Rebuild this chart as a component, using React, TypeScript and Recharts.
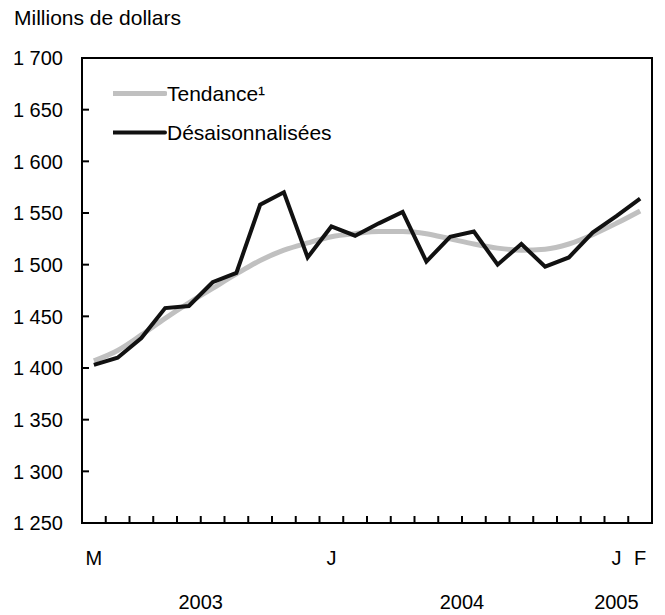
import React from "react";
import { ComposedChart, Line, XAxis, YAxis, ReferenceArea, Legend } from "recharts";

// ---- data ----
const months = [
  "2003-03", "2003-04", "2003-05", "2003-06", "2003-07", "2003-08", "2003-09", "2003-10",
  "2003-11", "2003-12", "2004-01", "2004-02", "2004-03", "2004-04", "2004-05", "2004-06",
  "2004-07", "2004-08", "2004-09", "2004-10", "2004-11", "2004-12", "2005-01", "2005-02",
];
const monthLabels = [
  "M", "", "", "", "", "", "", "", "", "", "J", "", "", "", "", "", "", "", "", "", "", "", "J", "F",
];
const trend = [
  1407, 1417, 1432, 1448, 1463, 1477, 1491, 1504, 1514, 1521, 1527, 1530,
  1532, 1532, 1530, 1525, 1520, 1516, 1514, 1515, 1520, 1529, 1540, 1552,
];
const seasonallyAdjusted = [
  1403, 1410, 1429, 1458, 1460, 1483, 1492, 1558, 1570, 1507, 1537, 1528,
  1540, 1551, 1503, 1527, 1532, 1500, 1520, 1498, 1507, 1531, 1547, 1564,
];
const yTicks = [1250, 1300, 1350, 1400, 1450, 1500, 1550, 1600, 1650, 1700];
const years = [
  { label: "2003", at: 4.5 },
  { label: "2004", at: 15.5 },
  { label: "2005", at: 22 },
];
const seriesNames = { trend: "Tendance\u00B9", sa: "Désaisonnalisées" };
const seriesOrder = ["trend", "sa"];
const yTitle = "Millions de dollars";

const data = months.map((m, i) => ({
  month: m,
  trend: trend[i],
  sa: seasonallyAdjusted[i],
}));

// ---- layout ----
const W = 665;
const H = 615;
const MARGIN = { top: 58, right: 13, bottom: 0, left: 0 };
const Y_W = 82;
const X_H = 92;
const PLOT_W = W - MARGIN.left - MARGIN.right - Y_W;
const FONT = "'Liberation Sans', Arial, Helvetica, sans-serif";
const FS = 21;
const FS_NUM = 20;

const fmt = (v: number) =>
  `${Math.floor(v / 1000)} ${String(v % 1000).padStart(3, "0")}`;

const XTick = (props: any) => {
  const { x, y, payload } = props;
  const i = months.indexOf(payload.value);
  const band = PLOT_W / months.length;
  return (
    <g>
      {i < months.length - 1 && (
        <line x1={x + band / 2} x2={x + band / 2} y1={y} y2={y - 7} stroke="#000" strokeWidth={2} />
      )}
      {monthLabels[i] && (
        <text x={x} y={y + 42} textAnchor="middle" fontSize={FS_NUM} fontFamily={FONT} fill="#000">
          {monthLabels[i]}
        </text>
      )}
      {years
        .filter((yr) => Math.floor(yr.at) === i)
        .map((yr) => (
          <text
            key={yr.label}
            x={x + (yr.at - i) * band}
            y={y + 86}
            textAnchor="middle"
            fontSize={FS_NUM}
            fontFamily={FONT}
            fill="#000"
          >
            {yr.label}
          </text>
        ))}
    </g>
  );
};

const YTick = (props: any) => {
  const { x, y, payload } = props;
  return (
    <g>
      <line x1={x + 19} x2={x + 26} y1={y} y2={y} stroke="#000" strokeWidth={2} />
      <text x={x} y={y} dy="0.36em" textAnchor="end" fontSize={FS_NUM} fontFamily={FONT} fill="#000">
        {fmt(payload.value)}
      </text>
    </g>
  );
};

const lineStyles: Record<string, { color: string; width: number }> = {
  trend: { color: "#c0c0c0", width: 5 },
  sa: { color: "#111111", width: 4 },
};

const LegendContent = (props: any) => {
  const items = [...(props.payload || [])].sort(
    (a: any, b: any) => seriesOrder.indexOf(a.dataKey) - seriesOrder.indexOf(b.dataKey)
  );
  return (
    <div style={{ fontFamily: FONT, fontSize: FS, color: "#000" }}>
      {items.map((p: any) => {
        const st = lineStyles[p.dataKey] || { color: p.color, width: 4 };
        return (
          <div key={p.value} style={{ display: "flex", alignItems: "center", height: 39, lineHeight: "39px" }}>
            <svg width={54} height={39} style={{ display: "block" }}>
              <line x1={0} x2={52} y1={19.5} y2={19.5} stroke={st.color} strokeWidth={st.width} strokeLinecap="round" />
            </svg>
            <span style={{ whiteSpace: "nowrap" }}>{p.value}</span>
          </div>
        );
      })}
    </div>
  );
};

export default function App() {
  return (
    <div style={{ position: "absolute", left: 0, top: 0, width: W, height: H, background: "#fff" }}>
      <div
        style={{
          position: "absolute",
          left: 14,
          top: 7,
          fontFamily: FONT,
          fontSize: FS,
          lineHeight: 1,
          color: "#000",
          whiteSpace: "nowrap",
        }}
      >
        {yTitle}
      </div>
      <ComposedChart width={W} height={H} data={data} margin={MARGIN}>
        <ReferenceArea
          y1={1250}
          y2={1700}
          fill="none"
          stroke="#000"
          strokeWidth={2}
          ifOverflow="visible"
        />
        <XAxis
          dataKey="month"
          scale="band"
          height={X_H}
          interval={0}
          tickLine={false}
          tickSize={0}
          tickMargin={0}
          axisLine={{ stroke: "#000", strokeWidth: 2 }}
          tick={<XTick />}
        />
        <YAxis
          width={Y_W}
          domain={[1250, 1700]}
          ticks={yTicks}
          interval={0}
          allowDataOverflow
          tickLine={false}
          tickSize={0}
          tickMargin={19}
          axisLine={{ stroke: "#000", strokeWidth: 2 }}
          tick={<YTick />}
        />
        <Legend
          layout="vertical"
          align="center"
          verticalAlign="middle"
          wrapperStyle={{ left: 113, top: 74, width: 260, margin: 0 }}
          content={<LegendContent />}
        />
        <Line
          type="monotone"
          dataKey="trend"
          name={seriesNames.trend}
          stroke={lineStyles.trend.color}
          strokeWidth={lineStyles.trend.width}
          dot={false}
          activeDot={false}
          isAnimationActive={false}
        />
        <Line
          type="linear"
          dataKey="sa"
          name={seriesNames.sa}
          stroke={lineStyles.sa.color}
          strokeWidth={lineStyles.sa.width}
          dot={false}
          activeDot={false}
          isAnimationActive={false}
        />
      </ComposedChart>
    </div>
  );
}
